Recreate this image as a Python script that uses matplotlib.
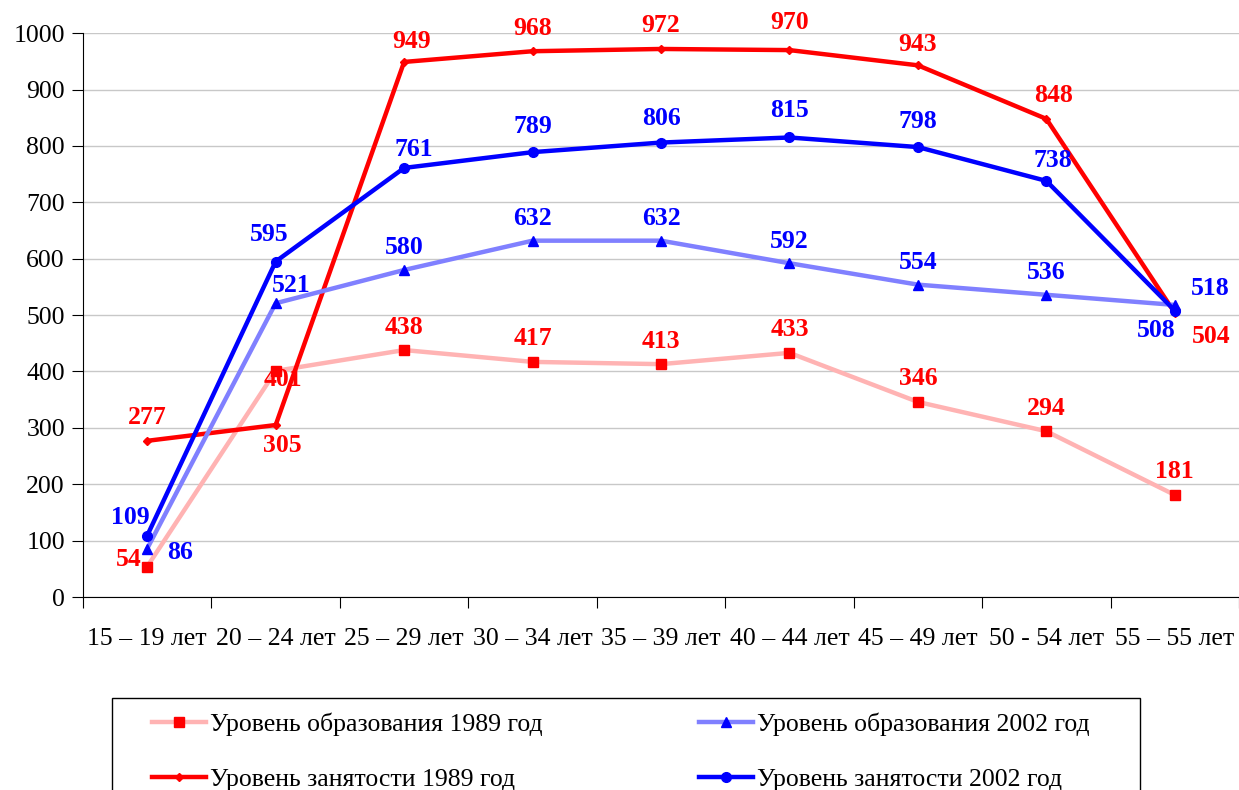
import matplotlib.pyplot as plt
from matplotlib.patches import Rectangle

plt.rcParams['font.family'] = ['Liberation Serif', 'DejaVu Serif']

groups = ['15 – 19 лет', '20 – 24 лет', '25 – 29 лет', '30 – 34 лет', '35 – 39 лет',
          '40 – 44 лет', '45 – 49 лет', '50 - 54 лет', '55 – 55 лет']

edu_1989 = [54, 401, 438, 417, 413, 433, 346, 294, 181]
edu_2002 = [86, 521, 580, 632, 632, 592, 554, 536, 518]
emp_1989 = [277, 305, 949, 968, 972, 970, 943, 848, 504]
emp_2002 = [109, 595, 761, 789, 806, 815, 798, 738, 508]

# label offsets in pixels (dx, dy), up is positive
up = (0, 23)
off_edu_1989 = [(-18, 7), (7, -9), up, up, up, up, up, up, up]
off_edu_2002 = [(33, -4), (16, 18), (0, 22), (0, 22), (0, 22), (0, 22), (0, 22), (0, 22), (35, 16)]
off_emp_1989 = [up, (7, -20), (7, 20), up, up, (0, 28), (0, 21), (7, 23), (36, -24)]
off_emp_2002 = [(-17, 18), (-6, 27), (10, 18), (0, 26), (0, 24), (0, 27), (0, 26), (7, 20), (-19, -20)]

fig = plt.figure(figsize=(12.39, 7.9), dpi=100)
ax = fig.add_axes([0.067, 0.2443, 0.933, 0.7137])

x = list(range(len(groups)))
fs = 18.5

series = [
    (edu_1989, off_edu_1989, '#FFB3B3', 's', 'red', 7, 'red', 'Уровень образования 1989 год'),
    (emp_1989, off_emp_1989, '#FF0000', 'D', 'red', 4.5, 'red', 'Уровень занятости 1989 год'),
    (edu_2002, off_edu_2002, '#8080FF', '^', 'blue', 7.5, 'blue', 'Уровень образования 2002 год'),
    (emp_2002, off_emp_2002, '#0000FF', 'o', 'blue', 7, 'blue', 'Уровень занятости 2002 год'),
]

for vals, offs, col, mk, mcol, ms, tcol, name in series:
    ax.plot(x, vals, color=col, lw=3.2, marker=mk, markersize=ms,
            markerfacecolor=mcol, markeredgecolor=mcol, label=name, zorder=3)
    for xi, v, (dx, dy) in zip(x, vals, offs):
        ax.annotate(str(v), (xi, v), xytext=(dx * 0.72, dy * 0.72), textcoords='offset points',
                    ha='center', va='center', fontsize=fs, fontweight='bold', color=tcol, zorder=5)

ax.set_xlim(-0.5, 8.5)
ax.set_ylim(0, 1000)
ax.set_yticks(range(0, 1001, 100))
ax.yaxis.grid(True, color='#C8C8C8', lw=1)
ax.set_axisbelow(True)

ax.set_xticks([i - 0.5 for i in range(len(groups) + 1)])
ax.set_xticklabels([])
ax.set_xticks(x, minor=True)
ax.set_xticklabels(groups, minor=True)
ax.tick_params(axis='x', which='major', direction='out', length=8, color='black')
ax.tick_params(axis='x', which='minor', length=0, pad=22, labelsize=fs)
ax.tick_params(axis='y', direction='out', length=8, labelsize=fs, pad=5)

for s in ['top', 'right']:
    ax.spines[s].set_visible(False)
ax.spines['left'].set_color('black')
ax.spines['bottom'].set_color('black')

# legend box drawn separately, legend itself without frame
fig.patches.append(Rectangle((112 / 1239, -0.05), (1140 - 112) / 1239, 0.05 + 1 - 698 / 790,
                             transform=fig.transFigure, fill=False, edgecolor='black', lw=1))
fig.legend(loc='upper left', bbox_to_anchor=(152 / 1239, 1 - 712 / 790),
           ncol=2, fontsize=fs, frameon=False, handlelength=2.1, labelspacing=1.25,
           borderpad=0, borderaxespad=0, handletextpad=0.15, columnspacing=6.1)

fig.savefig('out.png', dpi=100)
